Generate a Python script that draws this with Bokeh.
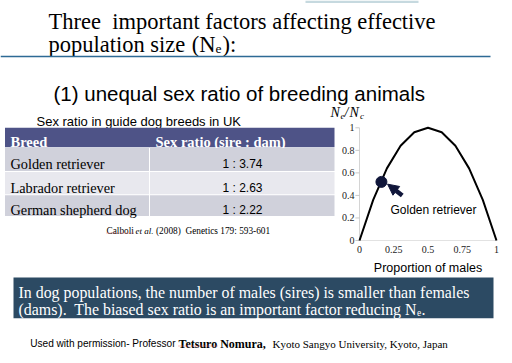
from bokeh.plotting import figure
from bokeh.models import Range1d, Arrow, NormalHead
from bokeh.core.properties import value
from bokeh.embed import file_html
from bokeh.resources import INLINE

# ---------------- data ----------------
title_line1 = "Three\u00a0 important factors affecting effective"
title_line2 = ["population size", "(N", "e", "):"]
subtitle = "(1) unequal sex ratio of breeding animals"
table_title = "Sex ratio in guide dog breeds in UK"
table_headers = ["Breed", "Sex ratio (sire : dam)"]
breeds = ["Golden retriever", "Labrador retriever", "German shepherd dog"]
sex_ratios = ["1 : 3.74", "1 : 2.63", "1 : 2.22"]
citation_parts = ["Calboli", "et al.", "(2008)\u00a0 Genetics 179: 593-601"]

prop_males = [0, 0.1, 0.2, 0.3, 0.4, 0.5, 0.6, 0.7, 0.8, 0.9, 1.0]
ne_over_nc = [0, 0.36, 0.64, 0.84, 0.96, 1.0, 0.96, 0.84, 0.64, 0.36, 0]
x_ticks = [0, 0.25, 0.5, 0.75, 1]
x_tick_labels = ["0", "0.25", "0.5", "0.75", "1"]
y_ticks = [0, 0.2, 0.4, 0.6, 0.8, 1]
y_tick_labels = ["0", "0.2", "0.4", "0.6", "0.8", "1"]
golden_x = [0.16]
golden_y = [0.52]
golden_label = "Golden retriever"
x_label = "Proportion of males"

box_line1 = "In dog populations, the number of males (sires) is smaller than females"
box_line2 = ["(dams).\u00a0 The biased sex ratio is an important factor", "reducing N", "e", "."]
footer_parts = ["Used with permission- Professor", "Tetsuro Nomura,", "Kyoto Sangyo University, Kyoto, Japan"]

# ---------------- layout ----------------
SERIF = "Liberation Serif"
SANS = "Liberation Sans"
X0, XS = 359.0, 137.0      # chart: pixel of p=0, pixels per unit
Y0, YS = 240.0, 112.7      # chart: pixel of v=0, pixels per unit
W, H = 504, 355

p = figure(width=W, height=H, x_range=Range1d(0, W), y_range=Range1d(H, 0),
           output_backend="svg", toolbar_location=None, min_border=0,
           x_axis_location=None, y_axis_location=None)
p.grid.visible = False
p.outline_line_color = None
p.background_fill_color = "white"
p.extra_x_ranges = {"cx": Range1d((0 - X0) / XS, (W - X0) / XS)}
p.extra_y_ranges = {"cy": Range1d((Y0 - H) / YS, (Y0 - 0) / YS)}


def txt(x, y, s, size, font=SERIF, color="black", align="left", baseline="alphabetic", style="normal", **kw):
    p.text(x=[x], y=[y], text=[s], text_font=value(font), text_font_size=f"{size}px",
           text_color=color, text_align=align, text_baseline=baseline, text_font_style=style, **kw)


# top light bar
p.quad(left=[305], right=[418], top=[0], bottom=[2.5], fill_color="#c6d9df", line_color=None)

# title
txt(48, 21, title_line1, 22.5)
txt(48, 44, title_line2[0], 22.5)
txt(215, 44, title_line2[1], 22.5, align="right")
txt(215, 48, title_line2[2], 13.5)
txt(222, 44, title_line2[3], 22.5)
p.segment(x0=[0], y0=[56], x1=[490], y1=[56], line_color="#2d6a95", line_width=1.6)

# subtitle
txt(53, 93, subtitle, 20.5, font=SANS)

# table
txt(36, 120.5, table_title, 13, font=SANS)
T_LEFT, T_RIGHT, T_DIV = 4.5, 334, 149
p.quad(left=[T_LEFT], right=[T_RIGHT], top=[127.3], bottom=[146.7], fill_color="#4e5387", line_color=None)
txt(10, 141, table_headers[0], 14.5, color="white", style="bold")
txt(155, 141, table_headers[1], 14.5, color="white", style="bold")
row_tops = [147.5, 171.5, 194.8]
row_bots = [170.5, 193.8, 215.5]
row_cols = ["#d0d1db", "#e8e8ee", "#d0d1db"]
for i, (b, r) in enumerate(zip(breeds, sex_ratios)):
    p.quad(left=[T_LEFT], right=[T_DIV - 0.5], top=[row_tops[i]], bottom=[row_bots[i]],
           fill_color=row_cols[i], line_color=None)
    p.quad(left=[T_DIV + 0.5], right=[T_RIGHT], top=[row_tops[i]], bottom=[row_bots[i]],
           fill_color=row_cols[i], line_color=None)
    mid = (row_tops[i] + row_bots[i]) / 2
    txt(10, mid + 4.5, b, 14.3)
    txt(242, mid + 4.5, r, 12, font=SANS, align="center")

# citation
txt(106, 230, citation_parts[0], 9.3)
txt(135, 230, citation_parts[1], 9, style="italic")
txt(155.5, 230, citation_parts[2], 9.3)
p.segment(x0=[106], y0=[232.5], x1=[133], y1=[232.5], line_color="#e06060", line_width=0.8, line_dash="1 1")

# ---------------- chart ----------------
CR = dict(x_range_name="cx", y_range_name="cy")
p.segment(x0=[0], y0=[0], x1=[0], y1=[1], line_color="#d4d4d4", line_width=1, **CR)
p.segment(x0=[0], y0=[0], x1=[1], y1=[0], line_color="#e2e2e2", line_width=1, **CR)
p.segment(x0=[-0.03] * len(y_ticks), y0=y_ticks, x1=[0] * len(y_ticks), y1=y_ticks,
          line_color="#c8c8c8", line_width=1, **CR)
p.text(x=[0] * len(y_ticks), y=y_ticks, text=y_tick_labels, x_offset=-5,
       text_align="right", text_baseline="middle", text_font=value(SERIF),
       text_font_size="10px", text_color="#222222", **CR)
p.text(x=x_ticks, y=[0] * len(x_ticks), text=x_tick_labels, y_offset=9,
       text_align="center", text_baseline="middle", text_font=value(SERIF),
       text_font_size="10px", text_color="#222222", **CR)
p.text(x=[0.5], y=[0], text=[x_label], y_offset=27, text_align="center",
       text_baseline="middle", text_font=value(SANS), text_font_size="12.5px", **CR)

p.line(prop_males, ne_over_nc, line_color="black", line_width=2, **CR)
p.scatter(golden_x, golden_y, size=11, fill_color="#10163a", line_color="#10163a", **CR)
p.add_layout(Arrow(end=NormalHead(size=11, fill_color="#10163a", line_color="#10163a"),
                   x_start=0.312, y_start=0.40, x_end=0.205, y_end=0.50,
                   line_color="#10163a", line_width=4.5, **CR))
p.text(x=[0.226], y=[0.27], text=[golden_label], text_align="left", text_baseline="middle",
       text_font=value(SANS), text_font_size="12px", **CR)

# Ne/Nc label
txt(330, 112, "N", 14, style="italic")
txt(340, 115, "e", 9, style="italic")
txt(344, 112, "/", 14, style="italic")
txt(349, 112, "N", 14, style="italic")
txt(359.5, 115, "c", 9, style="italic")

# ---------------- message box ----------------
p.quad(left=[13], right=[493], top=[277], bottom=[317.7], fill_color="#2c4a63", line_color=None)
txt(18, 292, box_line1, 15.9, color="white")
txt(18, 309, box_line2[0], 15.9, color="white")
txt(416, 309, box_line2[1], 15.9, color="white", align="right")
txt(416.5, 312, box_line2[2], 9.5, color="white")
txt(421, 309, box_line2[3], 15.9, color="white")

# footer
txt(175, 343, footer_parts[0], 10.1, font=SANS, align="right")
txt(178, 343, footer_parts[1], 12, style="bold")
txt(272, 343, footer_parts[2], 11)
p.segment(x0=[178], y0=[345.5], x1=[218], y1=[345.5], line_color="#e06060", line_width=0.8, line_dash="1 1")

open("out.html", "w").write(file_html(p, INLINE))
